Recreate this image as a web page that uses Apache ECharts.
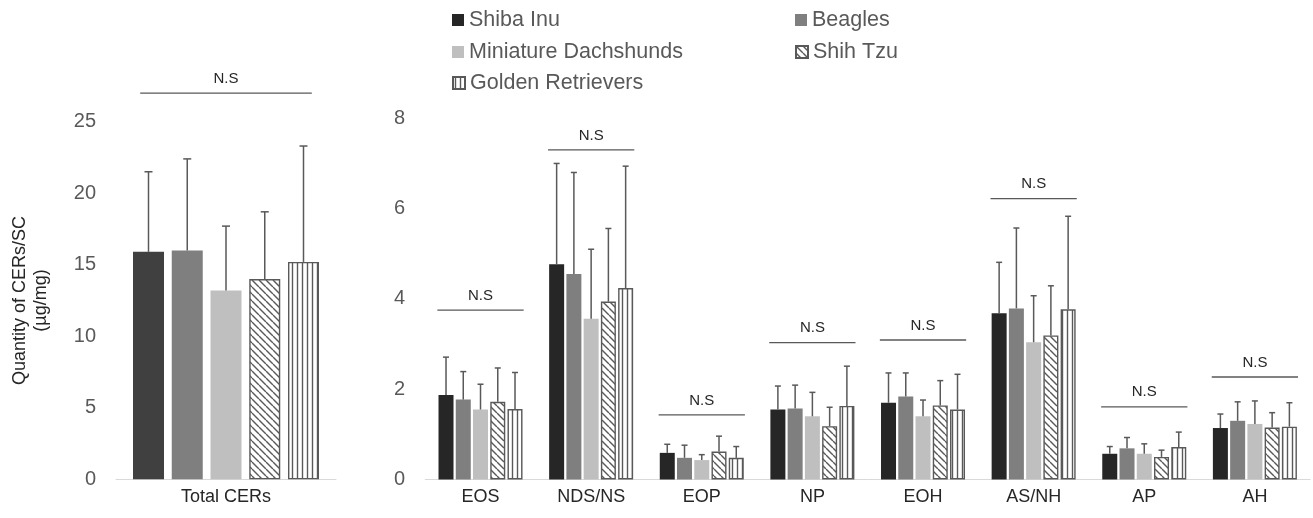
<!DOCTYPE html>
<html>
<head>
<meta charset="utf-8">
<script src="https://cdn.jsdelivr.net/npm/echarts@6/dist/echarts.min.js"></script>
<style>
  html, body { margin: 0; padding: 0; background: #ffffff; }
  #chart { width: 1313px; height: 518px; }
</style>
</head>
<body>
<div id="chart"></div>
<script>
// Ceramide quantities in stratum corneum by dog breed (mean and SD, µg/mg)
const breeds = ['Shiba Inu', 'Beagles', 'Miniature Dachshunds', 'Shih Tzu', 'Golden Retrievers'];

// Total CERs panel
const totalCategory = ['Total CERs'];
const totalMean = [15.9, 16.0, 13.2, 14.0, 15.2];
const totalSD   = [5.6, 6.4, 4.5, 4.7, 8.1];
const totalSigLevel = [27.0];

// Ceramide class panel
const classCategories = ['EOS', 'NDS/NS', 'EOP', 'NP', 'EOH', 'AS/NH', 'AP', 'AH'];
const shibaMean      = [1.87, 4.77, 0.59, 1.55, 1.70, 3.68, 0.57, 1.14];
const shibaSD        = [0.84, 2.23, 0.19, 0.52, 0.66, 1.13, 0.16, 0.31];
const beagleMean     = [1.77, 4.55, 0.48, 1.57, 1.84, 3.79, 0.69, 1.30];
const beagleSD       = [0.62, 2.25, 0.28, 0.52, 0.52, 1.78, 0.24, 0.42];
const dachshundMean  = [1.55, 3.56, 0.43, 1.40, 1.40, 3.04, 0.57, 1.23];
const dachshundSD    = [0.56, 1.54, 0.12, 0.53, 0.36, 1.03, 0.22, 0.51];
const shihTzuMean    = [1.72, 3.94, 0.62, 1.18, 1.64, 3.19, 0.50, 1.15];
const shihTzuSD      = [0.75, 1.62, 0.34, 0.42, 0.55, 1.10, 0.15, 0.33];
const goldenMean     = [1.56, 4.24, 0.48, 1.63, 1.55, 3.77, 0.72, 1.17];
const goldenSD       = [0.81, 2.70, 0.25, 0.88, 0.78, 2.06, 0.33, 0.53];
const classSigLevel  = [3.75, 7.3, 1.43, 3.03, 3.09, 6.22, 1.61, 2.27];

const totalYTicks = [0, 25, 5];   // min, max, interval
const classYTicks = [0, 8, 2];

const classMeans = [shibaMean, beagleMean, dachshundMean, shihTzuMean, goldenMean];
const classSDs   = [shibaSD, beagleSD, dachshundSD, shihTzuSD, goldenSD];

// ---- styling ----
const FONT = "'Liberation Sans', Arial, sans-serif";
const STROKE = '#595959';

function makePattern(kind) {
  const c = document.createElement('canvas');
  const s = kind === 'diag' ? 7 : 5;
  c.width = s; c.height = s;
  const ctx = c.getContext('2d');
  ctx.fillStyle = '#ffffff';
  ctx.fillRect(0, 0, s, s);
  ctx.strokeStyle = STROKE;
  ctx.lineWidth = 1.4;
  ctx.beginPath();
  if (kind === 'diag') {
    for (const x0 of [-s, 0, s]) {
      ctx.moveTo(x0, 0);
      ctx.lineTo(x0 + s, s);
    }
  } else {
    ctx.moveTo(s / 2, 0);
    ctx.lineTo(s / 2, s);
  }
  ctx.stroke();
  return { image: c, repeat: 'repeat' };
}
const diagFill = makePattern('diag');
const vertFill = makePattern('vert');

function breedStyle(i, panel) {
  if (i === 0) return { color: panel === 'total' ? '#404040' : '#262626' };
  if (i === 1) return { color: '#7f7f7f' };
  if (i === 2) return { color: '#bfbfbf' };
  if (i === 3) return { color: diagFill, borderColor: STROKE, borderWidth: 1.4 };
  return { color: vertFill, borderColor: STROKE, borderWidth: 1.4 };
}

const panels = {
  total: { grid: 0, barWidth: 31, gapRatio: 0.25 },
  cls:   { grid: 1, barWidth: 15, gapRatio: 0.15 }
};

function errorSeries(name, i, panel, means, sds) {
  const p = panels[panel];
  const step = p.barWidth * (1 + p.gapRatio);
  const offset = (i - 2) * step;
  const cap = panel === 'total' ? 4 : 3;
  return {
    type: 'custom',
    name: name,
    xAxisIndex: p.grid,
    yAxisIndex: p.grid,
    z: 5,
    silent: true,
    data: means.map((m, k) => [k, m, sds[k]]),
    renderItem: function (params, api) {
      const k = api.value(0), m = api.value(1), sd = api.value(2);
      const base = api.coord([k, m]);
      const top = api.coord([k, m + sd]);
      const x = base[0] + offset;
      const lineStyle = { stroke: STROKE, lineWidth: 1.5 };
      return {
        type: 'group',
        children: [
          { type: 'line', shape: { x1: x, y1: base[1], x2: x, y2: top[1] }, style: lineStyle },
          { type: 'line', shape: { x1: x - cap, y1: top[1], x2: x + cap, y2: top[1] }, style: lineStyle }
        ]
      };
    }
  };
}

function sigSeries(panel, levels) {
  const p = panels[panel];
  return {
    type: 'custom',
    xAxisIndex: p.grid,
    yAxisIndex: p.grid,
    z: 6,
    silent: true,
    clip: false,
    data: levels.map((v, k) => [k, v]),
    renderItem: function (params, api) {
      const c = api.coord([api.value(0), api.value(1)]);
      const band = api.size([1, 0])[0];
      const half = band * 0.39;
      return {
        type: 'group',
        children: [
          { type: 'line', shape: { x1: c[0] - half, y1: c[1], x2: c[0] + half, y2: c[1] },
            style: { stroke: STROKE, lineWidth: 1.3 } },
          { type: 'text', x: c[0], y: c[1] - 7,
            style: { text: 'N.S', fill: '#262626', fontSize: 15, fontFamily: FONT,
                     align: 'center', verticalAlign: 'bottom' } }
        ]
      };
    }
  };
}

const series = [];
// class panel bars first so legend icons follow its colours
breeds.forEach((b, i) => {
  series.push({
    type: 'bar', name: b, xAxisIndex: 1, yAxisIndex: 1,
    barWidth: panels.cls.barWidth, barGap: (panels.cls.gapRatio * 100) + '%',
    itemStyle: breedStyle(i, 'cls'),
    data: classMeans[i]
  });
});
breeds.forEach((b, i) => {
  series.push({
    type: 'bar', name: b, xAxisIndex: 0, yAxisIndex: 0,
    barWidth: panels.total.barWidth, barGap: (panels.total.gapRatio * 100) + '%',
    itemStyle: breedStyle(i, 'total'),
    data: [totalMean[i]]
  });
});
breeds.forEach((b, i) => {
  series.push(errorSeries(b, i, 'cls', classMeans[i], classSDs[i]));
  series.push(errorSeries(b, i, 'total', [totalMean[i]], [totalSD[i]]));
});
series.push(sigSeries('total', totalSigLevel));
series.push(sigSeries('cls', classSigLevel));

const legendSpots = [
  { left: 452, top: 9 },
  { left: 795, top: 9 },
  { left: 452, top: 41 },
  { left: 795, top: 41 },
  { left: 452, top: 72 }
];
const legends = breeds.map((b, i) => ({
  data: [b],
  left: legendSpots[i].left,
  top: legendSpots[i].top,
  padding: 0,
  icon: 'rect',
  itemWidth: 12,
  itemHeight: 12,
  selectedMode: false,
  textStyle: { fontFamily: FONT, fontSize: 21.5, color: '#595959', padding: [2, 0, 0, 0] }
}));

function catAxis(idx, cats) {
  return {
    type: 'category', gridIndex: idx, data: cats,
    axisLine: { lineStyle: { color: '#d9d9d9', width: 1 } },
    axisTick: { show: false },
    axisLabel: { fontFamily: FONT, fontSize: 18, color: '#262626', margin: 9 }
  };
}
function valAxis(idx, ticks, extra) {
  return Object.assign({
    type: 'value', gridIndex: idx,
    min: ticks[0], max: ticks[1], interval: ticks[2],
    axisLine: { show: false },
    axisTick: { show: false },
    splitLine: { show: false },
    axisLabel: { fontFamily: FONT, fontSize: 20, color: '#595959', margin: 20 }
  }, extra || {});
}

const chart = echarts.init(document.getElementById('chart'), null, { renderer: 'canvas' });
chart.setOption({
  animation: false,
  backgroundColor: '#ffffff',
  legend: legends,
  grid: [
    { left: 116, top: 121.7, width: 220, height: 357.6, outerBoundsMode: 'none', containLabel: false },
    { left: 425.2, top: 118.3, width: 885, height: 361.2, outerBoundsMode: 'none', containLabel: false }
  ],
  xAxis: [catAxis(0, totalCategory), catAxis(1, classCategories)],
  yAxis: [
    valAxis(0, totalYTicks, {
      name: 'Quantity of CERs/SC\n(µg/mg)',
      nameLocation: 'middle',
      nameGap: 64,
      nameTextStyle: { fontFamily: FONT, fontSize: 18, color: '#262626', lineHeight: 21 }
    }),
    valAxis(1, classYTicks)
  ],
  series: series
});
</script>
</body>
</html>
